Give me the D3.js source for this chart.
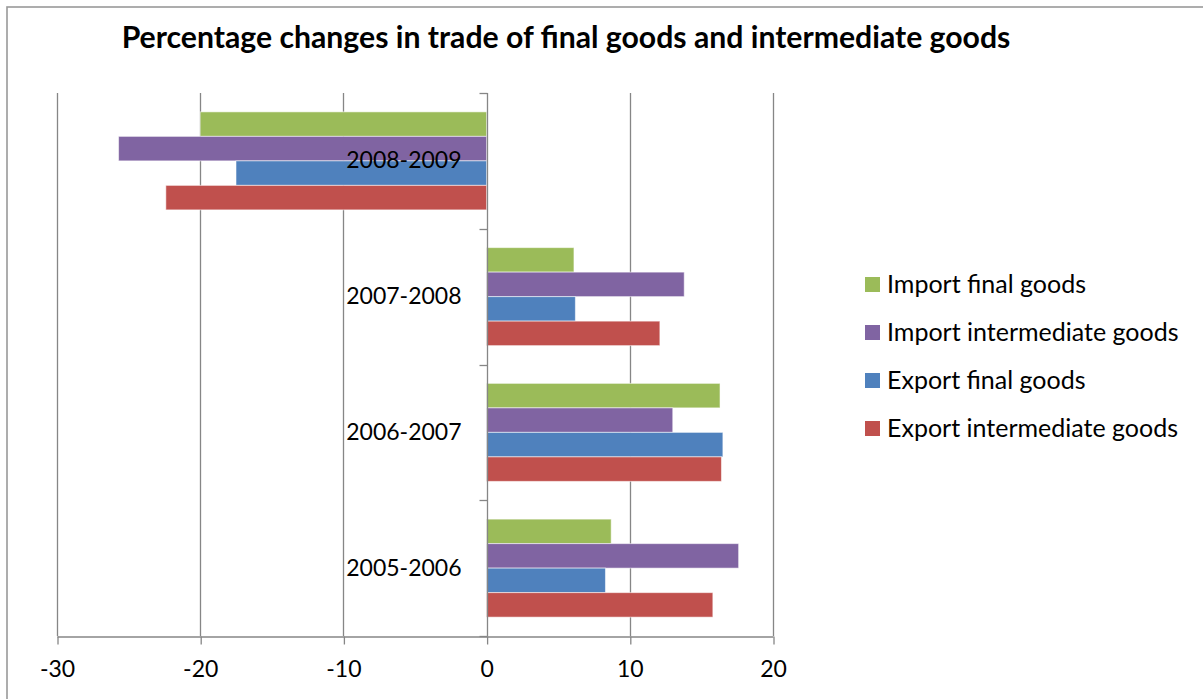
<!DOCTYPE html>
<html>
<head>
<meta charset="utf-8">
<script src="https://cdn.jsdelivr.net/npm/d3@7"></script>
<style>
  html, body { margin: 0; padding: 0; background: #fff; }
  svg { display: block; font-family: Lato, "Open Sans", sans-serif; }
</style>
</head>
<body>
<svg id="chart" width="1203" height="699"></svg>
<script>
// Periods, top to bottom
const categories = ["2008-2009", "2007-2008", "2006-2007", "2005-2006"];
// Series, in bar order within each period
const seriesNames = ["Import final goods", "Import intermediate goods", "Export final goods", "Export intermediate goods"];
// Percentage changes per period
const importFinal        = [-20.0,  6.1, 16.3,  8.7];
const importIntermediate = [-25.7, 13.8, 13.0, 17.6];
const exportFinal        = [-17.5,  6.2, 16.5,  8.3];
const exportIntermediate = [-22.4, 12.1, 16.4, 15.8];
const xTicks = [-30, -20, -10, 0, 10, 20];
const titleText = "Percentage changes in trade of final goods and intermediate goods";

const seriesValues = [importFinal, importIntermediate, exportFinal, exportIntermediate];
const colors = ["#9BBB59", "#8064A2", "#4F81BD", "#C0504D"];

const svg = d3.select("#chart");
const gridColor = "#868686";

// chart frame
svg.append("rect")
  .attr("x", 7).attr("y", 7).attr("width", 1210).attr("height", 710)
  .attr("fill", "none").attr("stroke", "#999").attr("stroke-width", 1.6);

const plot = { left: 57, right: 773, top: 93, bottom: 636 };

const x = d3.scaleLinear().domain([-30, 20]).range([plot.left, plot.right]);
const y = d3.scaleBand().domain(categories).range([plot.top, plot.bottom]).padding(0);
const inner = d3.scaleBand().domain(seriesNames).range([0, y.bandwidth()])
  .paddingInner(0).paddingOuter(0.77);

// vertical gridlines
svg.append("g").selectAll("line")
  .data(xTicks.filter(t => t !== 0))
  .join("line")
  .attr("x1", d => Math.round(x(d)) + 0.5).attr("x2", d => Math.round(x(d)) + 0.5)
  .attr("y1", plot.top).attr("y2", plot.bottom)
  .attr("stroke", gridColor).attr("stroke-width", 1.3);

// x axis
const xAxis = svg.append("g")
  .attr("transform", `translate(0,${plot.bottom + 0.5})`)
  .call(d3.axisBottom(x).tickValues(xTicks).tickFormat(d => String(d))
    .tickSize(8).tickPadding(16).tickSizeOuter(0));
xAxis.select(".domain").attr("stroke", gridColor).attr("stroke-width", 1.3);
xAxis.selectAll(".tick line").attr("stroke", gridColor).attr("stroke-width", 1.3)
  .attr("transform", "translate(0.5,0)");
xAxis.selectAll(".tick text")
  .attr("fill", "#000").attr("font-size", 23).attr("font-family", "Lato, sans-serif");

// bars
const rows = [];
categories.forEach((c, i) => {
  seriesNames.forEach((s, j) => rows.push({ cat: c, series: s, value: seriesValues[j][i], color: colors[j] }));
});
svg.append("g").selectAll("rect")
  .data(rows)
  .join("rect")
  .attr("x", d => x(Math.min(0, d.value)))
  .attr("y", d => y(d.cat) + inner(d.series))
  .attr("width", d => Math.abs(x(d.value) - x(0)))
  .attr("height", inner.bandwidth())
  .attr("fill", d => d.color)
  .attr("stroke", "rgba(255,255,255,0.55)").attr("stroke-width", 1);

// category axis at zero
const x0 = Math.round(x(0)) + 0.5;
const yAxis = svg.append("g");
yAxis.append("line")
  .attr("x1", x0).attr("x2", x0).attr("y1", plot.top).attr("y2", plot.bottom)
  .attr("stroke", gridColor).attr("stroke-width", 1.3);
const boundaries = categories.map(c => y(c)).concat([plot.bottom]);
yAxis.selectAll("line.tick")
  .data(boundaries)
  .join("line").attr("class", "tick")
  .attr("x1", x0 - 8).attr("x2", x0)
  .attr("y1", d => Math.round(d) + 0.5).attr("y2", d => Math.round(d) + 0.5)
  .attr("stroke", gridColor).attr("stroke-width", 1.3);

// category labels
svg.append("g").selectAll("text")
  .data(categories)
  .join("text")
  .attr("x", x0 - 26)
  .attr("y", d => y(d) + y.bandwidth() / 2)
  .attr("dy", "0.33em")
  .attr("text-anchor", "end")
  .attr("font-size", 23)
  .text(d => d);

// title
svg.append("text")
  .attr("x", 566).attr("y", 48)
  .attr("text-anchor", "middle")
  .attr("font-size", 30.2).attr("font-weight", "bold")
  .text(titleText);

// legend
const legend = svg.append("g").attr("transform", "translate(865,277)");
const item = legend.selectAll("g")
  .data(seriesNames)
  .join("g")
  .attr("transform", (d, i) => `translate(0,${i * 48})`);
item.append("rect").attr("width", 15).attr("height", 15).attr("fill", (d, i) => colors[i]);
item.append("text").attr("x", 22).attr("y", 7.5).attr("dy", "0.35em")
  .attr("font-size", 25).text(d => d);
</script>
</body>
</html>
